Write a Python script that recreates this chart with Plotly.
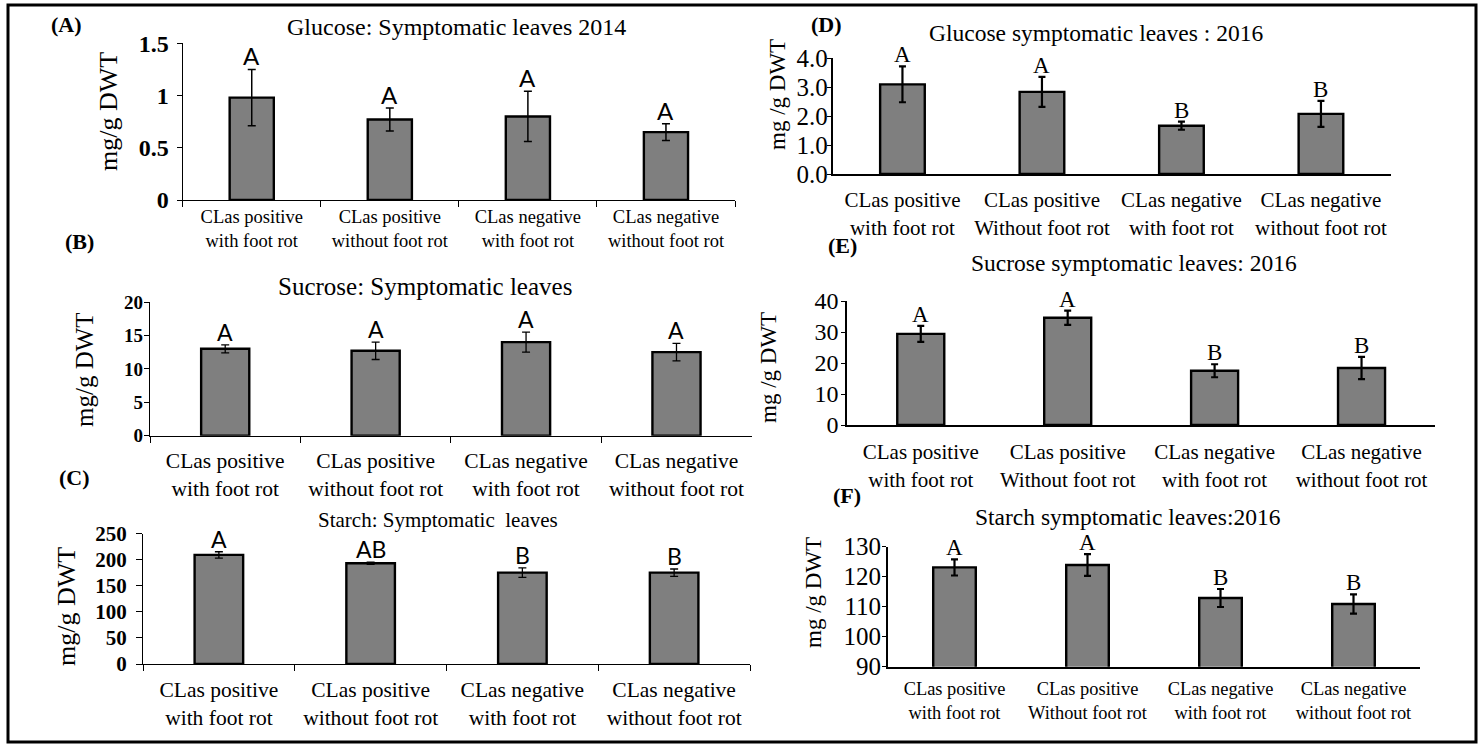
import plotly.graph_objects as go

W, H = 1479, 745

# ---- data -------------------------------------------------------------
cats_2014 = ["CLas positive<br>with foot rot", "CLas positive<br>without foot rot",
             "CLas negative<br>with foot rot", "CLas negative<br>without foot rot"]
cats_2016 = ["CLas positive<br>with foot rot", "CLas positive<br>Without foot rot",
             "CLas negative<br>with foot rot", "CLas negative<br>without foot rot"]

glucose_2014 = [0.98, 0.77, 0.80, 0.65]
glucose_2014_err = [0.27, 0.11, 0.24, 0.08]
glucose_2014_grp = ["A", "A", "A", "A"]

sucrose_2014 = [13.0, 12.7, 14.0, 12.5]
sucrose_2014_err = [0.6, 1.3, 1.5, 1.3]
sucrose_2014_grp = ["A", "A", "A", "A"]

starch_2014 = [209, 193, 175, 175]
starch_2014_err = [6, 2, 9, 7]
starch_2014_grp = ["A", "AB", "B", "B"]

glucose_2016 = [3.10, 2.84, 1.67, 2.08]
glucose_2016_err = [0.62, 0.52, 0.14, 0.45]
glucose_2016_grp = ["A", "A", "B", "B"]

sucrose_2016 = [29.4, 34.6, 17.5, 18.4]
sucrose_2016_err = [2.6, 2.3, 2.1, 3.6]
sucrose_2016_grp = ["A", "A", "B", "B"]

starch_2016 = [123.1, 123.9, 112.9, 110.9]
starch_2016_err = [2.7, 3.6, 3.0, 3.2]
starch_2016_grp = ["A", "A", "B", "B"]

# ---- styling ----------------------------------------------------------
SERIF = "Liberation Serif, Times New Roman, serif"
SANS = "Lato, Liberation Sans, Arial, sans-serif"
BAR_GREY = "#7f7f7f"


def px_x(x):
    return x / W


def px_y(y):
    return 1 - y / H


# layout of each panel in pixels: plot box, titles, labels
panels = [
    dict(tag="(A)", title="Glucose: Symptomatic leaves 2014", cats=cats_2014,
         vals=glucose_2014, errs=glucose_2014_err, grp=glucose_2014_grp,
         x0=182.7, x1=735, yb=200, yt=43.3, yr=[0, 1.5], dtick=0.5, fmt="",
         ytf=dict(family=SERIF, size=24, weight="bold"), xts=18.5, boundary=True,
         xstand=0, ystand=3, yticklen=5,
         title_xy=(456, 27), title_size=24, tag_xy=(66, 25),
         ytitle="mg/g DWT", ytitle_xy=(109, 112), ytitle_size=26,
         letter_font=dict(family=SANS, size=24), lw=1.3, ecap=4, eth=1.5),
    dict(tag="(B)", title="Sucrose: Symptomatic leaves", cats=cats_2014,
         vals=sucrose_2014, errs=sucrose_2014_err, grp=sucrose_2014_grp,
         x0=150, x1=751.7, yb=435.7, yt=302, yr=[0, 20], dtick=5, fmt="",
         ytf=dict(family=SERIF, size=19, weight="bold"), xts=21.5, boundary=True,
         xstand=5, ystand=-3, yticklen=5,
         title_xy=(425, 287), title_size=25, tag_xy=(79, 242),
         ytitle="mg/g DWT", ytitle_xy=(85, 370), ytitle_size=25,
         letter_font=dict(family=SANS, size=23), lw=1.3, ecap=4, eth=1.3),
    dict(tag="(C)", title="Starch: Symptomatic  leaves", cats=cats_2014,
         vals=starch_2014, errs=starch_2014_err, grp=starch_2014_grp,
         x0=143, x1=750, yb=664, yt=533.5, yr=[0, 250], dtick=50, fmt="",
         ytf=dict(family=SERIF, size=21, weight="bold"), xts=21.5, boundary=True,
         xstand=6, ystand=5, yticklen=6,
         title_xy=(438, 520), title_size=21, tag_xy=(74, 477),
         ytitle="mg/g DWT", ytitle_xy=(66, 607), ytitle_size=26,
         letter_font=dict(family=SANS, size=23), lw=1.3, ecap=4, eth=1.3),
    dict(tag="(D)", title="Glucose symptomatic leaves : 2016", cats=cats_2016,
         vals=glucose_2016, errs=glucose_2016_err, grp=glucose_2016_grp,
         x0=832.7, x1=1390.7, yb=174, yt=58.3, yr=[0, 4], dtick=1, fmt=".1f",
         ytf=dict(family=SERIF, size=25), xts=21, boundary=False,
         xstand=6, ystand=-6, yticklen=4,
         title_xy=(1096, 33), title_size=23.5, tag_xy=(827, 25),
         ytitle="mg /g DWT", ytitle_xy=(777, 95), ytitle_size=23,
         letter_font=dict(family=SERIF, size=23), lw=2, ecap=3.5, eth=2.2),
    dict(tag="(E)", title="Sucrose symptomatic leaves: 2016", cats=cats_2016,
         vals=sucrose_2016, errs=sucrose_2016_err, grp=sucrose_2016_grp,
         x0=847.3, x1=1435, yb=425, yt=301, yr=[0, 40], dtick=10, fmt="",
         ytf=dict(family=SERIF, size=24), xts=21, boundary=False,
         xstand=7, ystand=-2, yticklen=4,
         title_xy=(1134, 263), title_size=23.5, tag_xy=(842, 245),
         ytitle="mg /g DWT", ytitle_xy=(768, 368), ytitle_size=23,
         letter_font=dict(family=SERIF, size=23), lw=2, ecap=3.5, eth=2.2),
    dict(tag="(F)", title="Starch symptomatic leaves:2016", cats=cats_2016,
         vals=starch_2016, errs=starch_2016_err, grp=starch_2016_grp,
         x0=888, x1=1420, yb=666.7, yt=546.7, yr=[90, 130], dtick=10, fmt="",
         ytf=dict(family=SERIF, size=25), xts=18.4, boundary=False,
         xstand=4, ystand=-4, yticklen=4,
         title_xy=(1128, 517), title_size=23.5, tag_xy=(847, 495),
         ytitle="mg /g DWT", ytitle_xy=(813, 593), ytitle_size=23,
         letter_font=dict(family=SERIF, size=23), lw=2, ecap=3.5, eth=2.2),
]

fig = go.Figure()
annotations = []
layout_axes = {}

for i, p in enumerate(panels, start=1):
    sfx = "" if i == 1 else str(i)
    xref, yref = "x" + sfx, "y" + sfx

    fig.add_trace(go.Bar(
        x=p["cats"], y=p["vals"], xaxis=xref, yaxis=yref, width=0.32,
        marker=dict(color=BAR_GREY, line=dict(color="black", width=2.4)),
        error_y=dict(type="data", array=p["errs"], visible=True, color="black",
                     thickness=p["eth"], width=p["ecap"]),
        showlegend=False, hoverinfo="skip",
    ))

    axis_line = dict(showline=True, linecolor="black", linewidth=p["lw"], automargin=False)
    xa = dict(domain=[px_x(p["x0"]), px_x(p["x1"])], anchor=yref,
              type="category", range=[-0.5, 3.5], showgrid=False, zeroline=False,
              ticklabelstandoff=p["xstand"],
              tickfont=dict(family=SERIF, size=p["xts"], color="black"), **axis_line)
    if p["boundary"]:
        xa.update(ticks="outside", tickson="boundaries", ticklen=6,
                  tickcolor="black", tickwidth=1.3)
    else:
        xa.update(ticks="")
    ya = dict(domain=[px_y(p["yb"]), px_y(p["yt"])], anchor=xref,
              range=p["yr"], dtick=p["dtick"], tick0=p["yr"][0], showgrid=False,
              zeroline=False, ticks="outside", ticklen=p["yticklen"], tickcolor="black",
              tickwidth=1.3, tickformat=p["fmt"], ticklabelstandoff=p["ystand"],
              tickfont=dict(color="black", **p["ytf"]), **axis_line)
    layout_axes["xaxis" + sfx] = xa
    layout_axes["yaxis" + sfx] = ya

    # significance letters above each error bar
    for c, v, e, g in zip(p["cats"], p["vals"], p["errs"], p["grp"]):
        annotations.append(dict(
            x=c, y=v + e, xref=xref, yref=yref, text=g, showarrow=False,
            xanchor="center", yanchor="bottom", yshift=-3,
            font=dict(color="black", **p["letter_font"])))

    # panel title, panel tag and y-axis title
    annotations.append(dict(
        x=px_x(p["title_xy"][0]), y=px_y(p["title_xy"][1]), xref="paper", yref="paper",
        text=p["title"], showarrow=False, xanchor="center", yanchor="middle",
        font=dict(family=SERIF, size=p["title_size"], color="black")))
    annotations.append(dict(
        x=px_x(p["tag_xy"][0]), y=px_y(p["tag_xy"][1]), xref="paper", yref="paper",
        text="<b>" + p["tag"] + "</b>", showarrow=False, xanchor="center", yanchor="middle",
        font=dict(family=SERIF, size=22, color="black")))
    annotations.append(dict(
        x=px_x(p["ytitle_xy"][0]), y=px_y(p["ytitle_xy"][1]), xref="paper", yref="paper",
        text=p["ytitle"], showarrow=False, textangle=-90, xanchor="center", yanchor="middle",
        font=dict(family=SERIF, size=p["ytitle_size"], color="black")))

fig.update_layout(
    width=W, height=H, margin=dict(l=0, r=0, t=0, b=0, pad=0, autoexpand=False),
    paper_bgcolor="white", plot_bgcolor="white",
    annotations=annotations,
    shapes=[dict(type="rect", xref="paper", yref="paper",
                 x0=px_x(8), x1=px_x(1476), y0=px_y(742), y1=px_y(5),
                 line=dict(color="black", width=3))],
    **layout_axes,
)

fig.write_html("out.html")
